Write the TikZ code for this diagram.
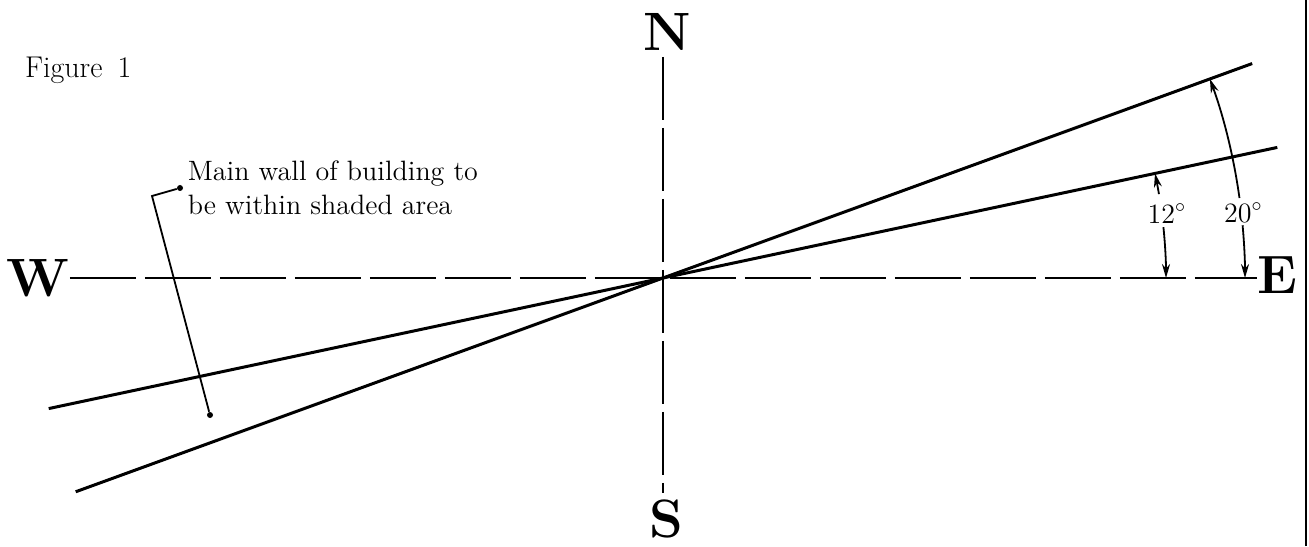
\documentclass[tikz,border=0pt]{standalone}
\usetikzlibrary{arrows.meta,positioning,calc}
\begin{document}
\begin{tikzpicture}[x=0.5pt, y=0.5pt, >={Stealth[length=7pt,width=4pt]},
    axis/.style={line width=1.1pt},
    wall/.style={line width=1.5pt},
    dim/.style={line width=0.9pt, ->},
    pt/.style={circle, fill, inner sep=0pt, minimum size=3pt},
    dir/.style={font=\fontsize{27}{30}\selectfont\bfseries, inner sep=0pt},
    deg/.style={font=\fontsize{14}{16}\selectfont, inner sep=1pt}]
    \useasboundingbox (0,0) rectangle (1309,546);
    \coordinate (O) at (663,268);
    \node[dir] (N) at (667,514) {N};
    \node[dir] (S) at (666,27) {S};
    \node[dir] (W) at (38,268) {W};
    \node[dir] (E) at (1277,271) {E};
    \node[anchor=west, font=\fontsize{15}{18}\selectfont] (fig) at (18,476) {Figure\hspace{0.5em}1};

    \draw[axis, dash pattern=on 33pt off 4.5pt] (W.east) -- (W.east -| E.west);
    \draw[axis, dash pattern=on 31.5pt off 4pt, shorten <=3pt, shorten >=3pt] (O |- N.south) -- (O |- S.north);

    \draw[wall] ($(O)+(12:628)$) -- ($(O)+(192:628)$);
    \draw[wall] ($(O)+(20:627)$) -- ($(O)+(200:625)$);

    \node[deg] (a12) at ($(O)+(7.3:508)$) {12$^{\circ}$};
    \node[deg] (a20) at ($(O)+(6.4:584)$) {20$^{\circ}$};
    \draw[dim] ($(O)+(9.6:503)$) arc[start angle=9.6, end angle=12, radius=503];
    \draw[dim] ($(O)+(5.8:503)$) arc[start angle=5.8, end angle=0, radius=503];
    \draw[dim] ($(O)+(7.9:582)$) arc[start angle=7.9, end angle=20, radius=582];
    \draw[dim] ($(O)+(5.2:582)$) arc[start angle=5.2, end angle=0, radius=582];

    \node[pt] (tip) at (180,358) {};
    \node[pt] (foot) at (210,131) {};
    \coordinate (bend) at (152,350);
    \draw[line width=0.9pt] (tip) -- (bend) -- (foot);
    \node[right=2pt of tip, align=left, inner sep=0pt, font=\fontsize{14}{17}\selectfont] (note) {Main wall of building to\\be within shaded area};

    \draw[line width=1pt] (1306,0) -- (1306,546);
\end{tikzpicture}
\end{document}
